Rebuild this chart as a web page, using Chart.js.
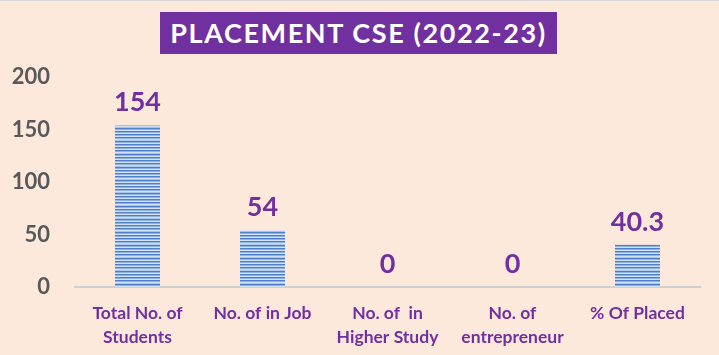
<!DOCTYPE html>
<html>
<head>
<meta charset="utf-8">
<script src="https://cdn.jsdelivr.net/npm/chart.js@4.4.1/dist/chart.umd.min.js"></script>
<style>
  html, body { margin: 0; padding: 0; background: #FDE9DB; }
  #wrap { position: relative; width: 719px; height: 355px; background: #FDE9DB; border-top: 1px solid #D9D9D9; box-sizing: border-box; }
  #title { position: absolute; left: 160px; top: 11px; width: 397px; height: 42px; background: #7030A0; color: #fff;
           font: bold 27px Lato, "Open Sans", sans-serif; letter-spacing: 1.6px; text-align: center; line-height: 42px; white-space: nowrap; overflow: hidden; }
  canvas { position: absolute; left: 0; top: 0; }
</style>
</head>
<body>
<div id="wrap">
  <canvas id="c" width="719" height="355"></canvas>
  <div id="title">PLACEMENT CSE (2022-23)</div>
</div>
<script>
const categories = [
  ['Total No. of', 'Students'],
  ['No. of in Job'],
  ['No. of  in', 'Higher Study'],
  ['No. of', 'entrepreneur'],
  ['% Of Placed']
];
const values = [154, 54, 0, 0, 40.3];
const valueLabels = ['154', '54', '0', '0', '40.3'];
const yTicks = [0, 50, 100, 150, 200];

function stripePattern() {
  const p = document.createElement('canvas');
  p.width = 4; p.height = 13;
  const g = p.getContext('2d');
  const rows = ['#4F7FC8','#8FB2E4','#D3E1F4','#4F7FC8','#8FB2E4','#D3E1F4','#4F7FC8','#8FB2E4','#D3E1F4','#A9C5EC','#4F7FC8','#8FB2E4','#D3E1F4'];
  rows.forEach((c, i) => { g.fillStyle = c; g.fillRect(0, i, 4, 1); });
  return g.createPattern(p, 'repeat');
}

const valueLabelPlugin = {
  id: 'valueLabels',
  afterDatasetsDraw(chart) {
    const ctx = chart.ctx;
    const meta = chart.getDatasetMeta(0);
    ctx.save();
    ctx.fillStyle = '#7030A0';
    ctx.font = 'bold 27px Lato, "Open Sans", sans-serif';
    ctx.textAlign = 'center';
    ctx.textBaseline = 'alphabetic';
    meta.data.forEach((bar, i) => {
      ctx.fillText(valueLabels[i], bar.x, bar.y - 14);
    });
    ctx.restore();
  }
};

new Chart(document.getElementById('c'), {
  type: 'bar',
  data: {
    labels: categories,
    datasets: [{
      data: values,
      backgroundColor: stripePattern(),
      borderWidth: 0,
      categoryPercentage: 1,
      barPercentage: 0.36
    }]
  },
  options: {
    responsive: false,
    animation: false,
    layout: { padding: { top: 76, right: 19, left: 0, bottom: 0 } },
    plugins: { legend: { display: false }, tooltip: { enabled: false }, title: { display: false } },
    scales: {
      x: {
        grid: { display: false, drawTicks: false },
        border: { display: true, color: '#CFCFCF', width: 2 },
        ticks: {
          color: '#7030A0',
          font: { family: 'Lato, "Open Sans", sans-serif', size: 17.5, weight: 'bold', lineHeight: 1.4 },
          padding: 14,
          maxRotation: 0,
          autoSkip: false
        },
        afterFit(scale) { scale.height = 69; }
      },
      y: {
        min: 0, max: 200,
        afterBuildTicks(scale) { scale.ticks = yTicks.map(v => ({ value: v })); },
        grid: { display: false, drawTicks: false },
        border: { display: false },
        ticks: {
          color: '#595959',
          font: { family: 'Lato, "Open Sans", sans-serif', size: 22, weight: 'bold' },
          padding: 25
        },
        afterFit(scale) { scale.width = 75; }
      }
    }
  },
  plugins: [valueLabelPlugin]
});
</script>
</body>
</html>
